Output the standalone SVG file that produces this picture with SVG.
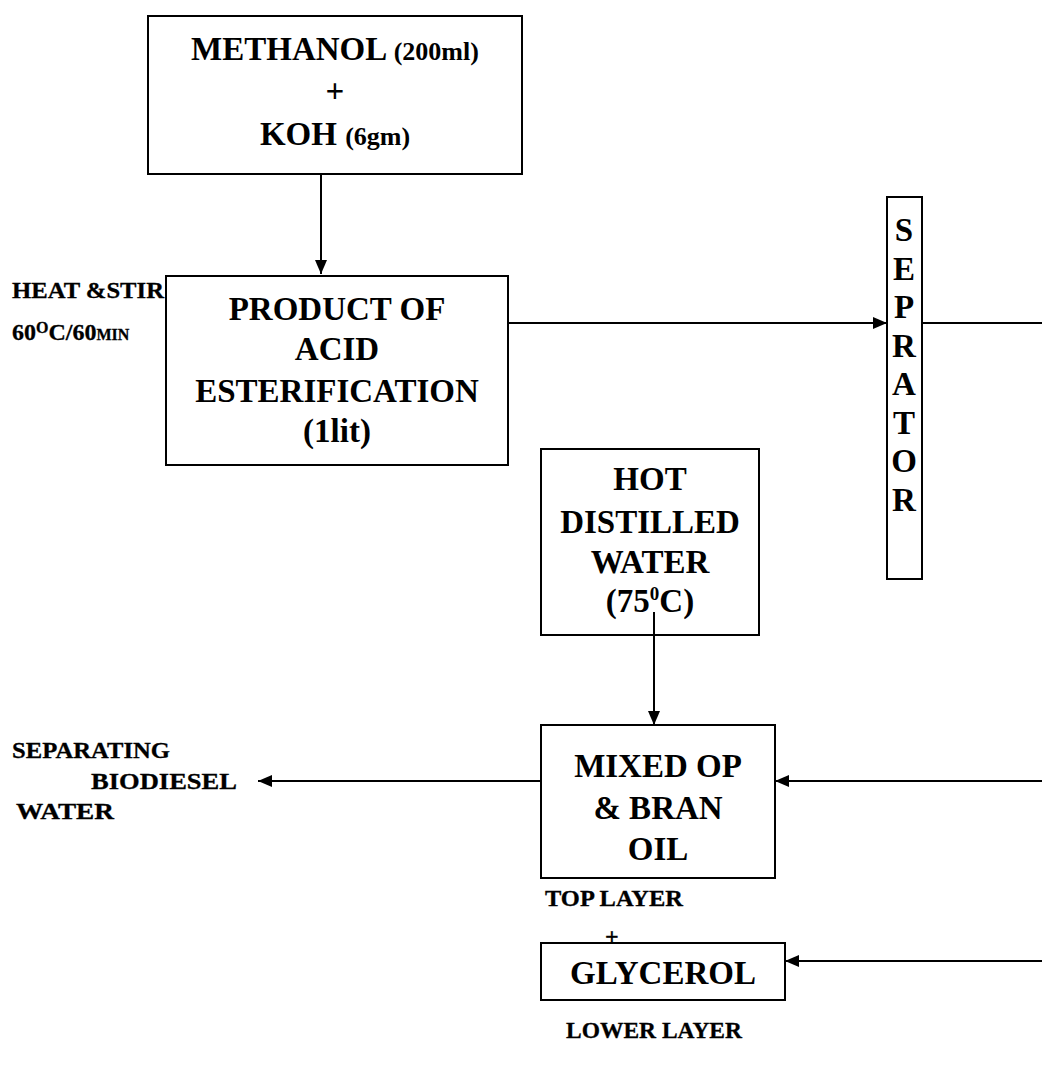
<svg xmlns="http://www.w3.org/2000/svg" width="1042" height="1066" viewBox="0 0 1042 1066">
<style>
.box{fill:none;stroke:#000;stroke-width:2}
.t{font-family:"Liberation Serif","Times New Roman",serif;font-weight:bold;fill:#000;text-anchor:middle;font-size:33px}
.s{font-family:"Liberation Serif","Times New Roman",serif;font-weight:bold;fill:#000;font-size:24px;stroke:#000;stroke-width:0.3}
.ln{stroke:#000;stroke-width:2;fill:none}
</style>
<defs>
<marker id="ah" markerWidth="14" markerHeight="12" refX="14" refY="6" orient="auto" markerUnits="userSpaceOnUse" viewBox="0 0 14 12">
<path d="M0,0 L14,6 L0,12 z" fill="#000"/>
</marker>
</defs>
<rect width="1042" height="1066" fill="#fff"/>
<g id="connectors">
<line class="ln" x1="321" y1="174" x2="321" y2="274" marker-end="url(#ah)"/>
<line class="ln" x1="508" y1="323" x2="887" y2="323" marker-end="url(#ah)"/>
<line class="ln" x1="922" y1="323" x2="1042" y2="323"/>
<line class="ln" x1="654" y1="612" x2="654" y2="725" marker-end="url(#ah)"/>
<line class="ln" x1="541" y1="781" x2="258" y2="781" marker-end="url(#ah)"/>
<line class="ln" x1="1042" y1="781" x2="775" y2="781" marker-end="url(#ah)"/>
<line class="ln" x1="1042" y1="961" x2="785" y2="961" marker-end="url(#ah)"/>
</g>
<g id="methanol">
<rect class="box" x="148" y="16" width="374" height="158"/>
<text class="t" x="335" y="60" font-size="35">METHANOL <tspan font-size="26">(200ml)</tspan></text>
<text class="t" x="335" y="102" font-size="35" font-weight="normal">+</text>
<text class="t" x="335" y="145" font-size="35">KOH <tspan font-size="26">(6gm)</tspan></text>
</g>
<g id="heat-label">
<text class="s" x="12" y="298" textLength="152" lengthAdjust="spacingAndGlyphs">HEAT &amp;STIR</text>
<text class="s" x="12" y="340">60<tspan font-size="16" dy="-7">O</tspan><tspan dy="7">C/60</tspan><tspan font-size="16">MIN</tspan></text>
</g>
<g id="product">
<rect class="box" x="166" y="276" width="342" height="189"/>
<text class="t" x="337" y="320">PRODUCT OF</text>
<text class="t" x="337" y="360">ACID</text>
<text class="t" x="337" y="402">ESTERIFICATION</text>
<text class="t" x="337" y="442">(1lit)</text>
</g>
<g id="separator">
<rect class="box" x="887" y="197" width="35" height="382"/>
<text class="t" x="904" y="241" font-size="28">S</text>
<text class="t" x="904" y="280" font-size="28">E</text>
<text class="t" x="904" y="318" font-size="28">P</text>
<text class="t" x="904" y="357" font-size="28">R</text>
<text class="t" x="904" y="395" font-size="28">A</text>
<text class="t" x="904" y="434" font-size="28">T</text>
<text class="t" x="904" y="472" font-size="28">O</text>
<text class="t" x="904" y="511" font-size="28">R</text>
</g>
<g id="hot-water">
<rect class="box" x="541" y="449" width="218" height="186"/>
<text class="t" x="650" y="490" font-size="32">HOT</text>
<text class="t" x="650" y="533" font-size="32">DISTILLED</text>
<text class="t" x="650" y="573" font-size="32">WATER</text>
<text class="t" x="650" y="612" font-size="32">(75<tspan font-size="19" dy="-12">0</tspan><tspan dy="12">C)</tspan></text>
</g>
<g id="mixed">
<rect class="box" x="541" y="725" width="234" height="153"/>
<text class="t" x="658" y="777" font-size="32">MIXED OP</text>
<text class="t" x="658" y="819" font-size="32">&amp; BRAN</text>
<text class="t" x="658" y="860" font-size="32">OIL</text>
</g>
<g id="biodiesel-label">
<text class="s" x="12" y="758" textLength="158" lengthAdjust="spacingAndGlyphs">SEPARATING</text>
<text class="s" x="91" y="789" textLength="146" lengthAdjust="spacingAndGlyphs">BIODIESEL</text>
<text class="s" x="16" y="819" textLength="98" lengthAdjust="spacingAndGlyphs">WATER</text>
</g>
<g id="layer-labels">
<text class="s" x="545" y="906" font-size="23" textLength="138" lengthAdjust="spacingAndGlyphs">TOP LAYER</text>
<text class="s" x="605" y="944" font-size="28">+</text>
<text class="s" x="566" y="1038" font-size="23" textLength="176" lengthAdjust="spacingAndGlyphs">LOWER LAYER</text>
</g>
<g id="glycerol">
<rect class="box" x="541" y="943" width="244" height="57"/>
<text class="t" x="663" y="984">GLYCEROL</text>
</g>
</svg>
